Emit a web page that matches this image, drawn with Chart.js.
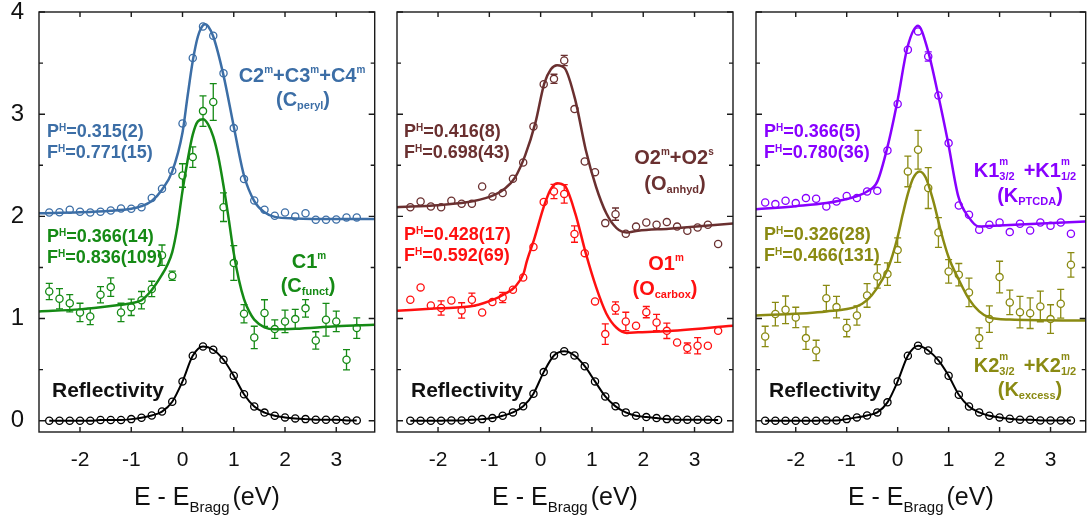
<!DOCTYPE html>
<html><head><meta charset="utf-8">
<script src="https://cdn.jsdelivr.net/npm/chart.js@4.4.0/dist/chart.umd.min.js"></script>
<style>
html,body{margin:0;padding:0;background:#fff;}
#wrap{position:relative;width:1091px;height:520px;overflow:hidden;background:#fff;}
canvas{position:absolute;top:0;}
</style></head>
<body><div id="wrap">
<canvas id="c1" width="380" height="520" style="left:0px"></canvas>
<canvas id="c2" width="360" height="520" style="left:380px"></canvas>
<canvas id="c3" width="351" height="520" style="left:740px"></canvas>
</div>
<script>
// ---------- tick values ----------
const xTicks = [-2, -1, 0, 1, 2, 3];
const yTicks = [0, 1, 2, 3, 4];
const yMinorTicks = [0.5, 1.5, 2.5, 3.5];

// ---------- energies (eV) ----------
const eA = [-2.6,-2.4,-2.2,-2.0,-1.8,-1.6,-1.4,-1.2,-1.0,-0.8,-0.6,-0.4,-0.2,0.0,0.2,0.4,0.6,0.8,1.0,1.2,1.4,1.6,1.8,2.0,2.2,2.4,2.6,2.8,3.0,3.2,3.4];
const eB = [-2.54,-2.34,-2.14,-1.94,-1.74,-1.54,-1.34,-1.14,-0.94,-0.74,-0.54,-0.34,-0.14,0.06,0.26,0.46,0.66,0.86,1.06,1.26,1.46,1.66,1.86,2.06,2.26,2.46,2.66,2.86,3.06,3.26,3.46];

// ---------- panel 1 (carbon) ----------
const reflC = [0.0,0.0,0.0,0.0,0.0,0.007,0.007,0.007,0.016,0.03,0.052,0.09,0.186,0.385,0.636,0.727,0.695,0.597,0.44,0.26,0.14,0.08,0.049,0.033,0.023,0.016,0.01,0.01,0.01,0.003,0.003];
const cPeryl = [2.038,2.04,2.065,2.045,2.038,2.045,2.058,2.077,2.074,2.09,2.18,2.27,2.446,2.91,3.55,3.858,3.767,3.40,2.864,2.365,2.156,2.065,2.006,2.038,2.0,2.03,1.967,1.967,1.97,1.99,1.99];
const cPerylErr = [0.02,0.02,0.02,0.02,0.02,0.02,0.02,0.02,0.02,0.02,0.02,0.02,0.02,0.02,0.02,0.03,0.03,0.02,0.02,0.02,0.02,0.02,0.02,0.02,0.02,0.02,0.02,0.02,0.02,0.02,0.02];
const cFunct = [1.265,1.194,1.15,1.06,1.02,1.233,1.308,1.06,1.11,1.18,1.29,1.62,1.419,2.40,2.58,3.03,3.12,2.09,1.543,1.047,0.815,1.054,0.897,0.972,0.995,1.10,0.786,0.988,0.972,0.597,0.907];
const cFunctErr = [0.08,0.10,0.085,0.09,0.08,0.08,0.09,0.09,0.08,0.085,0.075,0.10,0.045,0.115,0.10,0.15,0.18,0.14,0.17,0.09,0.11,0.13,0.09,0.11,0.095,0.085,0.085,0.16,0.10,0.10,0.10];
const fitPerylX = [-2.8,-2.0,-1.4,-1.0,-0.8,-0.6,-0.4,-0.2,0.0,0.1,0.2,0.3,0.4,0.45,0.5,0.6,0.8,1.0,1.2,1.4,1.6,1.8,2.2,3.0,3.75];
const fitPerylY = [2.03,2.04,2.055,2.075,2.10,2.15,2.26,2.44,2.82,3.18,3.52,3.76,3.87,3.88,3.86,3.76,3.38,2.88,2.40,2.15,2.04,1.995,1.98,1.975,1.975];
const fitFunctX = [-2.8,-2.0,-1.6,-1.2,-1.0,-0.8,-0.6,-0.4,-0.3,-0.2,-0.1,0.0,0.1,0.2,0.3,0.4,0.5,0.6,0.7,0.8,0.9,1.0,1.1,1.2,1.3,1.4,1.6,1.8,2.2,3.0,3.75];
const fitFunctY = [1.07,1.09,1.11,1.135,1.15,1.18,1.28,1.43,1.52,1.65,1.90,2.25,2.55,2.80,2.93,2.95,2.90,2.78,2.58,2.30,1.98,1.64,1.38,1.19,1.07,0.99,0.915,0.895,0.90,0.925,0.94];

// ---------- panel 2 (oxygen) ----------
const reflO = [0,0,0,0,0.003,0.003,0.01,0.016,0.026,0.049,0.082,0.141,0.265,0.476,0.639,0.681,0.639,0.534,0.385,0.238,0.141,0.082,0.049,0.036,0.026,0.016,0.01,0.01,0.01,0.01,0.007];
const oAnhyd = [2.09,2.146,2.097,2.09,2.153,2.123,2.123,2.293,2.195,2.228,2.368,2.527,2.88,3.294,3.346,3.526,3.05,2.537,2.433,1.934,2.022,1.83,1.90,1.94,1.918,1.944,1.90,1.859,1.891,1.918,1.729];
const oAnhydErr = [0.03,0.03,0.03,0.03,0.03,0.04,0.03,0.03,0.035,0.03,0.03,0.03,0.03,0.03,0.045,0.05,0.03,0.03,0.04,0.03,0.06,0.03,0.03,0.03,0.03,0.035,0.03,0.035,0.04,0.04,0.03];
const oCarbox = [1.184,1.305,1.128,1.103,1.177,1.08,1.184,1.06,1.161,1.207,1.282,1.402,1.70,2.14,2.244,2.22,1.827,1.64,1.168,0.848,1.103,0.972,0.93,1.063,0.962,0.88,0.766,0.711,0.734,0.734,0.88];
const oCarboxErr = [0.03,0.04,0.03,0.07,0.03,0.075,0.065,0.03,0.03,0.05,0.03,0.03,0.04,0.03,0.07,0.09,0.08,0.04,0.04,0.10,0.06,0.09,0.04,0.055,0.08,0.075,0.03,0.05,0.08,0.04,0.03];
const fitAnhydX = [-2.8,-2.0,-1.3,-0.9,-0.7,-0.5,-0.3,-0.1,0.07,0.2,0.32,0.47,0.675,0.88,1.08,1.28,1.48,1.68,1.9,2.5,3.75];
const fitAnhydY = [2.09,2.11,2.15,2.21,2.27,2.38,2.60,2.92,3.30,3.44,3.48,3.45,3.14,2.65,2.29,2.03,1.885,1.843,1.86,1.88,1.93];
const fitCarboxX = [-2.8,-2.0,-1.3,-0.9,-0.7,-0.5,-0.33,-0.27,-0.13,0.065,0.19,0.32,0.47,0.675,0.88,1.08,1.28,1.48,1.68,1.9,2.4,3.75];
const fitCarboxY = [1.076,1.10,1.125,1.19,1.24,1.31,1.445,1.56,1.77,2.10,2.26,2.325,2.30,2.03,1.64,1.31,1.05,0.91,0.86,0.865,0.875,0.93];

// ---------- panel 3 (potassium) ----------
const reflK = [0,0,0,0,0,0,0.003,0.003,0.016,0.033,0.052,0.082,0.18,0.385,0.636,0.734,0.688,0.59,0.44,0.254,0.14,0.082,0.049,0.033,0.02,0.01,0.01,0.003,0.003,0.003,0.003];
const kPtcda = [2.136,2.12,2.153,2.13,2.179,2.172,2.097,2.146,2.2,2.179,2.244,2.25,2.645,3.099,3.63,3.81,3.565,3.183,2.717,2.107,2.016,1.869,1.918,1.94,1.846,1.928,1.862,1.94,1.908,1.94,1.83];
const kPtcdaErr = [0.02,0.02,0.02,0.02,0.02,0.02,0.02,0.02,0.02,0.02,0.02,0.02,0.02,0.02,0.02,0.02,0.045,0.02,0.035,0.02,0.02,0.02,0.02,0.02,0.02,0.02,0.02,0.02,0.02,0.02,0.02];
const kExcess = [0.825,1.044,1.086,1.011,0.809,0.688,1.2,1.112,0.907,1.03,1.226,1.412,1.435,1.67,2.44,2.652,2.277,1.842,1.461,1.429,1.256,0.809,0.995,1.406,1.158,1.063,1.053,1.119,0.995,1.145,1.526];
const kExcessErr = [0.1,0.115,0.135,0.1,0.11,0.1,0.125,0.105,0.085,0.095,0.115,0.115,0.11,0.12,0.15,0.19,0.2,0.145,0.115,0.11,0.14,0.1,0.13,0.155,0.12,0.155,0.15,0.15,0.14,0.14,0.12];
const fitPtcdaX = [-2.78,-2.0,-1.4,-1.0,-0.6,-0.4,-0.2,0.0,0.19,0.4,0.59,0.79,0.99,1.19,1.39,1.59,1.79,2.4,3.69];
const fitPtcdaY = [2.07,2.10,2.13,2.17,2.244,2.34,2.68,3.14,3.65,3.865,3.63,3.2,2.72,2.195,1.995,1.90,1.905,1.92,1.95];
const fitExcessX = [-2.78,-1.4,-0.8,-0.6,-0.4,-0.2,-0.1,0.0,0.1,0.2,0.3,0.43,0.55,0.7,0.85,1.0,1.2,1.4,1.6,1.8,2.2,3.69];
const fitExcessY = [1.03,1.07,1.12,1.18,1.30,1.48,1.62,1.80,2.02,2.22,2.37,2.44,2.38,2.15,1.85,1.60,1.38,1.19,1.07,1.01,0.99,0.98];

// ---------- styling ----------
const FONT = '"Liberation Sans", Arial, Helvetica, sans-serif';
const COL = {blue:'#3c6ea6', green:'#158a15', brown:'#6a3030', red:'#ff1010', purple:'#8800ff', olive:'#8a8a12', black:'#000000'};

function pts(xs, ys){ return xs.map((x,i)=>({x:x, y:ys[i]})); }

function drawRich(ctx, it){
  const size = it.size, b = 'bold ';
  const supSize = it.supSize || 10, subSize = it.subSize || 11;
  const capH = t => /^[A-Z0-9]/.test(t) ? 0.716 : 0.519;
  const f = s => b + s + 'px ' + FONT;
  let total = 0;
  const w = it.segs.map(s => {
    const [t,k,t2] = s; let ww;
    if (k === 'gap') ww = t;
    else if (k === 'sup') { ctx.font = f(supSize); ww = ctx.measureText(t).width; }
    else if (k === 'sub') { ctx.font = f(subSize); ww = ctx.measureText(t).width; }
    else if (k === 'ss') { ctx.font = f(supSize); const a = ctx.measureText(t).width; ctx.font = f(subSize); ww = Math.max(a, ctx.measureText(t2).width); }
    else { ctx.font = f(size); ww = ctx.measureText(t).width; }
    total += ww; return ww;
  });
  let x = it.align === 'center' ? it.x - total/2 : it.x;
  ctx.fillStyle = it.color; ctx.textBaseline = 'alphabetic'; ctx.textAlign = 'left';
  it.segs.forEach((s,i) => {
    const [t,k,t2] = s;
    if (k === 'sup') { ctx.font = f(supSize); ctx.fillText(t, x, it.y - (0.716*size - capH(t)*supSize)); }
    else if (k === 'sub') { ctx.font = f(subSize); ctx.fillText(t, x, it.y + 3); }
    else if (k === 'ss') {
      ctx.font = f(supSize); ctx.fillText(t, x, it.y - (0.716*size - capH(t)*supSize) - 3);
      ctx.font = f(subSize); ctx.fillText(t2, x, it.y + 2.5);
    }
    else if (k !== 'gap') { ctx.font = f(size); ctx.fillText(t, x, it.y); }
    x += w[i];
  });
}

function pfNote(p, fv, x, y, color){
  return [
    {segs:[['P'],['H','sup'],['=' + p]], x:x, y:y, size:18, color:color},
    {segs:[['F'],['H','sup'],['=' + fv]], x:x, y:y+21, size:18, color:color}
  ];
}

const framePlugin = {
  id:'frame',
  afterDraw(chart){
    const {ctx, chartArea:a, scales:{x, y}} = chart;
    ctx.save();
    ctx.strokeStyle = '#1a1a1a'; ctx.lineWidth = 1.4;
    ctx.strokeRect(a.left, a.top, a.right - a.left, a.bottom - a.top);
    ctx.beginPath();
    xTicks.forEach(v => { const px = x.getPixelForValue(v);
      ctx.moveTo(px, a.bottom); ctx.lineTo(px, a.bottom - 5);
      ctx.moveTo(px, a.top); ctx.lineTo(px, a.top + 5); });
    yTicks.forEach(v => { const py = y.getPixelForValue(v);
      ctx.moveTo(a.left, py); ctx.lineTo(a.left + 6, py);
      ctx.moveTo(a.right, py); ctx.lineTo(a.right - 6, py); });
    yMinorTicks.forEach(v => { const py = y.getPixelForValue(v);
      ctx.moveTo(a.left, py); ctx.lineTo(a.left + 4, py);
      ctx.moveTo(a.right, py); ctx.lineTo(a.right - 4, py); });
    ctx.stroke();
    // axis title
    const cx = (a.left + a.right)/2;
    ctx.fillStyle = '#111'; ctx.textBaseline = 'alphabetic'; ctx.textAlign = 'left';
    const big = '25px ' + FONT, small = '15px ' + FONT;
    ctx.font = big; const w1 = ctx.measureText('E - E').width, w3 = ctx.measureText('(eV)').width;
    ctx.font = small; const w2 = ctx.measureText('Bragg').width;
    const gap = 3; let sx = cx - (w1 + w2 + gap + w3)/2;
    ctx.font = big; ctx.fillText('E - E', sx, 505); sx += w1;
    ctx.font = small; ctx.fillText('Bragg', sx, 512); sx += w2 + gap;
    ctx.font = big; ctx.fillText('(eV)', sx, 505);
    ctx.restore();
  }
};

const errPlugin = {
  id:'errbars',
  afterDatasetsDraw(chart){
    const {ctx, scales:{x, y}} = chart;
    chart.data.datasets.forEach(ds => {
      if (!ds.errs) return;
      ctx.save(); ctx.strokeStyle = ds.borderColor; ctx.lineWidth = 1.3;
      ctx.beginPath();
      ds.data.forEach((p, j) => {
        const e = ds.errs[j]; if (!e) return;
        const px = x.getPixelForValue(p.x), pc = y.getPixelForValue(p.y);
        const y1 = y.getPixelForValue(p.y + e), y2 = y.getPixelForValue(p.y - e);
        const r = 3.6;
        if (y1 < pc - r - 0.5) { ctx.moveTo(px, y1); ctx.lineTo(px, pc - r); ctx.moveTo(px - 3.5, y1); ctx.lineTo(px + 3.5, y1); }
        if (y2 > pc + r + 0.5) { ctx.moveTo(px, pc + r); ctx.lineTo(px, y2); ctx.moveTo(px - 3.5, y2); ctx.lineTo(px + 3.5, y2); }
      });
      ctx.stroke(); ctx.restore();
    });
  }
};

function makePanel(id, cfg){
  const datasets = [];
  cfg.series.forEach(s => {
    datasets.push({data: pts(s.fitX, s.fitY), showLine:true, borderColor:s.color, borderWidth:s.lw || 2.5,
      pointRadius:0, cubicInterpolationMode:'monotone', fill:false});
    datasets.push({data: pts(s.x, s.y), showLine:false, borderColor:s.color, backgroundColor:'rgba(0,0,0,0)',
      pointBackgroundColor:'rgba(0,0,0,0)', pointBorderColor:s.color, pointRadius:3.6, pointBorderWidth:1.3, errs:s.err});
  });
  const notesPlugin = { id:'notes', afterDraw(chart){ const ctx = chart.ctx; ctx.save();
    cfg.notes.forEach(n => drawRich(ctx, Object.assign({}, n, {x: n.x - cfg.offset})));
    ctx.restore(); } };
  new Chart(document.getElementById(id), {
    type:'scatter',
    data:{datasets},
    options:{
      responsive:false, animation:false, events:[], devicePixelRatio:1,
      layout:{padding:{left:cfg.padL, right:cfg.padR, top:12, bottom:0}},
      plugins:{legend:{display:false}, tooltip:{enabled:false}},
      scales:{
        x:{type:'linear', position:'bottom', min:cfg.xmin, max:cfg.xmax,
          grid:{display:false, drawTicks:false}, border:{display:false},
          ticks:{font:{family:FONT, size:21}, color:'#111', padding:16, maxRotation:0},
          afterBuildTicks: sc => { sc.ticks = xTicks.map(v => ({value:v})); },
          afterFit: sc => { sc.height = 88; sc.paddingLeft = 0; sc.paddingRight = 0; }},
        y:{type:'linear', display:cfg.showY, min:-0.11, max:4.0,
          grid:{display:false, drawTicks:false}, border:{display:false},
          ticks:{font:{family:FONT, size:24}, color:'#111', padding:15},
          afterBuildTicks: sc => { sc.ticks = yTicks.map(v => ({value:v})); },
          afterFit: sc => { sc.width = cfg.showY ? 39 : 0; sc.paddingTop = 0; sc.paddingBottom = 0; }}
      }
    },
    plugins:[framePlugin, errPlugin, notesPlugin]
  });
}

makePanel('c1', {offset:0, padL:0, padR:5, showY:true, xmin:-2.8, xmax:3.75,
  series:[
    {x:eA, y:reflC, fitX:eA, fitY:reflC, color:COL.black, lw:2},
    {x:eA, y:cFunct, err:cFunctErr, fitX:fitFunctX, fitY:fitFunctY, color:COL.green},
    {x:eA, y:cPeryl, err:cPerylErr, fitX:fitPerylX, fitY:fitPerylY, color:COL.blue}
  ],
  notes:[
    ...pfNote('0.315(2)', '0.771(15)', 47, 137, COL.blue),
    {segs:[['C2'],['m','sup'],['+C3'],['m','sup'],['+C4'],['m','sup']], x:302, y:82, size:20, color:COL.blue, align:'center'},
    {segs:[['(C'],['peryl','sub'],[')']], x:303, y:106, size:20, color:COL.blue, align:'center'},
    ...pfNote('0.366(14)', '0.836(109)', 47, 242, COL.green),
    {segs:[['C1'],['m','sup']], x:309, y:268, size:20, color:COL.green, align:'center'},
    {segs:[['(C'],['funct','sub'],[')']], x:308, y:292, size:20, color:COL.green, align:'center'},
    {segs:[['Reflectivity']], x:52, y:397, size:21, color:'#111'}
  ]});

makePanel('c2', {offset:380, padL:17, padR:7, showY:false, xmin:-2.8, xmax:3.75,
  series:[
    {x:eB, y:reflO, fitX:eB, fitY:reflO, color:COL.black, lw:2},
    {x:eB, y:oCarbox, err:oCarboxErr, fitX:fitCarboxX, fitY:fitCarboxY, color:COL.red},
    {x:eB, y:oAnhyd, err:oAnhydErr, fitX:fitAnhydX, fitY:fitAnhydY, color:COL.brown}
  ],
  notes:[
    ...pfNote('0.416(8)', '0.698(43)', 404, 137, COL.brown),
    {segs:[['O2'],['m','sup'],['+O2'],['s','sup']], x:674, y:164, size:20, color:COL.brown, align:'center'},
    {segs:[['(O'],['anhyd','sub'],[')']], x:675, y:190, size:20, color:COL.brown, align:'center'},
    ...pfNote('0.428(17)', '0.592(69)', 404, 240, COL.red),
    {segs:[['O1'],['m','sup']], x:666, y:270, size:20, color:COL.red, align:'center'},
    {segs:[['(O'],['carbox','sub'],[')']], x:665, y:295, size:20, color:COL.red, align:'center'},
    {segs:[['Reflectivity']], x:411, y:397, size:21, color:'#111'}
  ]});

makePanel('c3', {offset:740, padL:16, padR:1, showY:false, xmin:-2.78, xmax:3.69,
  series:[
    {x:eA, y:reflK, fitX:eA, fitY:reflK, color:COL.black, lw:2},
    {x:eA, y:kExcess, err:kExcessErr, fitX:fitExcessX, fitY:fitExcessY, color:COL.olive},
    {x:eA, y:kPtcda, err:kPtcdaErr, fitX:fitPtcdaX, fitY:fitPtcdaY, color:COL.purple}
  ],
  notes:[
    ...pfNote('0.366(5)', '0.780(36)', 764, 137, COL.purple),
    {segs:[['K1'],['m','ss','3/2'],[9,'gap'],['+K1'],['m','ss','1/2']], x:1025, y:177, size:20, color:COL.purple, align:'center'},
    {segs:[['(K'],['PTCDA','sub'],[')']], x:1030, y:202, size:20, color:COL.purple, align:'center'},
    ...pfNote('0.326(28)', '0.466(131)', 764, 240, COL.olive),
    {segs:[['K2'],['m','ss','3/2'],[9,'gap'],['+K2'],['m','ss','1/2']], x:1025, y:372, size:20, color:COL.olive, align:'center'},
    {segs:[['(K'],['excess','sub'],[')']], x:1030, y:396, size:20, color:COL.olive, align:'center'},
    {segs:[['Reflectivity']], x:769, y:397, size:21, color:'#111'}
  ]});
</script>
</body></html>
